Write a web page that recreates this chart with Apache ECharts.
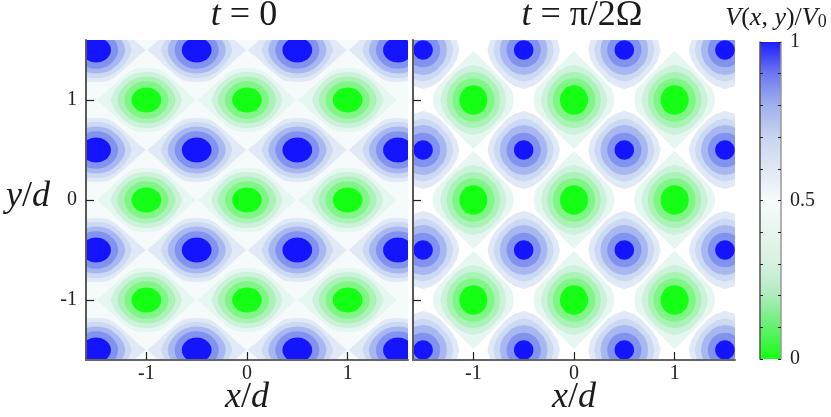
<!DOCTYPE html>
<html><head><meta charset="utf-8">
<style>html,body{margin:0;padding:0;background:#fff}#c{width:831px;height:417px}</style>
<script src="https://cdn.jsdelivr.net/npm/echarts@6/dist/echarts.min.js"></script>
</head><body><div id="c"></div>
<script>
// Well centres (units of d)
const greenX = [-1, 0, 1];
const greenY = [-1, 0, 1];
const blueX = [-1.5, -0.5, 0.5, 1.5];
const blueY = [-1.5, -0.5, 0.5, 1.5];
const axisTicks = [-1, 0, 1];
const barTickLabels = [0, 0.5, 1];
const barValue = [1];

// Contour shapes, one quadrant, as fractions of half-width / half-height
const shapeRound = [[1,0],[.98,.2],[.92,.38],[.81,.58],[.68,.73],[.5,.866],[.3,.954],[.15,.989],[0,1]];
const shapeL2 = [[1,0],[.97,.22],[.9,.42],[.78,.6],[.62,.77],[.45,.89],[.25,.97],[0,1]];
const shapeL3 = [[1,0],[.96,.22],[.87,.43],[.74,.62],[.58,.79],[.4,.91],[.2,.98],[0,1]];
const shapeL4 = [[1,0],[.93,.24],[.81,.47],[.66,.68],[.5,.84],[.32,.95],[.15,.99],[0,1]];
const shapeTip = [[1,0],[.8,.27],[.57,.6],[.4,.82],[.27,.95],[.13,.995],[0,1]];
const shapeR3 = [[1,0],[.96,.27],[.84,.52],[.68,.68],[.52,.84],[.27,.96],[0,1]];
const shapeR4 = [[1,0],[.94,.25],[.8,.5],[.65,.65],[.5,.8],[.25,.94],[0,1]];
const shapeRTipG = [[1,0],[.99,.1],[.94,.22],[.72,.42],[.46,.63],[.22,.82],[0,1]];
const shapeRBlue = [[1,0],[.93,.25],[.78,.48],[.63,.63],[.48,.78],[.25,.93],[0,1]];

// Contour half-widths, half-heights, outermost first
const leftWidths  = [.49, .355, .29, .22, .148];
const leftHeights = [.32, .28, .235, .187, .125];
const leftShapes  = [shapeTip, shapeL4, shapeL3, shapeL2, shapeRound];
const rightGreenWidths  = [.40, .33, .267, .21, .14];
const rightGreenHeights = [.49, .35, .28, .217, .147];
const rightGreenShapes  = [shapeRTipG, shapeR4, shapeR3, shapeRound, shapeRound];
const rightBlueWidths  = [.36, .30, .237, .17, .097];
const rightBlueHeights = [.39, .317, .25, .173, .097];
const rightBlueShapes  = [shapeRBlue, shapeR4, shapeR3, shapeRound, shapeRound];

const greenColors = ['#e6f6f0','#ccf2dc','#aaf2b6','#80f686','#14ff14'];
const blueColors  = ['#e0e9f5','#cbd9f2','#a8b7f0','#8292f0','#1414ff'];

function rings(xs, ys, widths, heights, shapes, colors) {
  const out = [];
  widths.forEach((_, k) => {
    xs.forEach(x => ys.forEach(y => out.push({
      cx: x, cy: y, w: widths[k], h: heights[k], shape: shapes[k], color: colors[k]
    })));
  });
  return out;
}
function contourSeries(i, items) {
  return {
    type: 'custom', xAxisIndex: i, yAxisIndex: i, clip: true, silent: true,
    coordinateSystem: 'cartesian2d',
    data: items.map((r, idx) => [r.cx, r.cy, idx]),
    encode: {x: 0, y: 1},
    renderItem(params, api) {
      const r = items[api.value(2)];
      const q = r.shape;
      const pts = [];
      const add = (sx, sy, list) => list.forEach(p => pts.push(api.coord([r.cx + sx * p[0] * r.w, r.cy + sy * p[1] * r.h])));
      add(1, 1, q);
      add(-1, 1, q.slice().reverse());
      add(-1, -1, q);
      add(1, -1, q.slice().reverse());
      return {type: 'polygon', shape: {points: pts}, style: {fill: r.color}};
    }
  };
}
const SERIF = '"Liberation Serif", serif';
const base = {fontFamily: SERIF, color: '#1a1a1a', fontWeight: 'normal'};
const mathRich = {
  i: {...base, fontStyle: 'italic', fontSize: 36},
  r: {...base, fontSize: 36},
  vi: {...base, fontStyle: 'italic', fontSize: 26},
  vr: {...base, fontSize: 26},
  sub: {...base, fontSize: 18, verticalAlign: 'bottom', padding: [8, 0, 0, 0]}
};
function panelAxes(i, showY) {
  const tick = {show: true, inside: true, length: 8, customValues: axisTicks, lineStyle: {color: '#222', width: 1.2}};
  const label = {customValues: axisTicks, fontFamily: SERIF, fontSize: 20, color: '#222', formatter: v => String(v)};
  return {
    x: {type: 'value', gridIndex: i, min: -1.6, max: 1.6, z: 10, splitLine: {show: false},
      axisLine: {show: true, onZero: false, lineStyle: {color: '#666', width: 2}},
      axisTick: tick, axisLabel: {...label, margin: 4},
      name: '{i|x}{r|/}{i|d}', nameLocation: 'middle', nameGap: 20, nameMoveOverlap: false, nameTextStyle: {rich: mathRich}},
    y: {type: 'value', gridIndex: i, min: -1.6, max: 1.6, z: 10, splitLine: {show: false},
      axisLine: {show: true, onZero: false, lineStyle: {color: '#5a5a5a', width: 2}},
      axisTick: tick, axisLabel: {...label, show: showY, margin: 9},
      name: showY ? '{i|y}{r|/}{i|d}' : '', nameLocation: 'middle', nameRotate: 0, nameGap: 36, nameMoveOverlap: false, nameTextStyle: {rich: mathRich, padding: [0,0,6,0]}}
  };
}
const L = panelAxes(0, true), R = panelAxes(1, false);
const option = {
  animation: false,
  backgroundColor: '#fff',
  title: [
    {text: '{i|t}{r| = 0}', left: 239, top: -7, textAlign: 'center', textStyle: {rich: mathRich}},
    {text: '{i|t}{r| = π/2Ω}', left: 577, top: -7, textAlign: 'center', textStyle: {rich: mathRich}},
    {text: '{vi|V}{vr|(}{vi|x}{vr|, }{vi|y}{vr|)/}{vi|V}{sub|0}', left: 771, top: 0, textAlign: 'center', textStyle: {rich: mathRich}}
  ],
  grid: [
    {left: 86, top: 40, width: 322, height: 320, show: true, backgroundColor: '#f5fafa', borderWidth: 0, outerBoundsMode: 'none'},
    {left: 413, top: 40, width: 322, height: 320, show: true, backgroundColor: '#ffffff', borderWidth: 0, outerBoundsMode: 'none'},
    {left: 760, top: 42, width: 21, height: 317, show: false, outerBoundsMode: 'none'}
  ],
  xAxis: [L.x, R.x, {type: 'category', gridIndex: 2, data: [''], axisLine: {show: false}, axisTick: {show: false}, axisLabel: {show: false}}],
  yAxis: [L.y, R.y,
    {type: 'value', gridIndex: 2, min: 0, max: 1, interval: 0.1, z: 10, splitLine: {show: false},
      axisLine: {show: true, lineStyle: {color: '#555', width: 1.5}},
      axisTick: {show: true, inside: true, length: 3, lineStyle: {color: '#222'}},
      axisLabel: {show: false}},
    {type: 'value', gridIndex: 2, position: 'right', min: 0, max: 1, interval: 0.1, z: 10, splitLine: {show: false},
      axisLine: {show: true, lineStyle: {color: '#999', width: 1.5}},
      axisTick: {show: true, inside: true, length: 3, lineStyle: {color: '#222'}},
      axisLabel: {show: true, margin: 9, customValues: barTickLabels, fontFamily: SERIF, fontSize: 20, color: '#222', formatter: v => String(v)}}
  ],
  series: [
    contourSeries(0, rings(greenX, greenY, leftWidths, leftHeights, leftShapes, greenColors)
      .concat(rings(blueX, blueY, leftWidths, leftHeights, leftShapes, blueColors))),
    contourSeries(1, rings(greenX, greenY, rightGreenWidths, rightGreenHeights, rightGreenShapes, greenColors)
      .concat(rings(blueX, blueY, rightBlueWidths, rightBlueHeights, rightBlueShapes, blueColors))),
    {type: 'bar', xAxisIndex: 2, yAxisIndex: 2, data: barValue, barWidth: '100%', silent: true,
      itemStyle: {color: new echarts.graphic.LinearGradient(0, 0, 0, 1, [
        {offset: 0, color: '#1e1eff'},
        {offset: 0.1, color: '#6e78f0'},
        {offset: 0.2, color: '#a0b0ec'},
        {offset: 0.3, color: '#c8d4f0'},
        {offset: 0.5, color: '#f8fbfb'},
        {offset: 0.7, color: '#d7f0e1'},
        {offset: 0.8, color: '#afebbe'},
        {offset: 0.9, color: '#64f06e'},
        {offset: 1, color: '#14ff14'}
      ])}}
  ]
};
echarts.init(document.getElementById('c'), null, {renderer: 'canvas'}).setOption(option);
</script></body></html>
